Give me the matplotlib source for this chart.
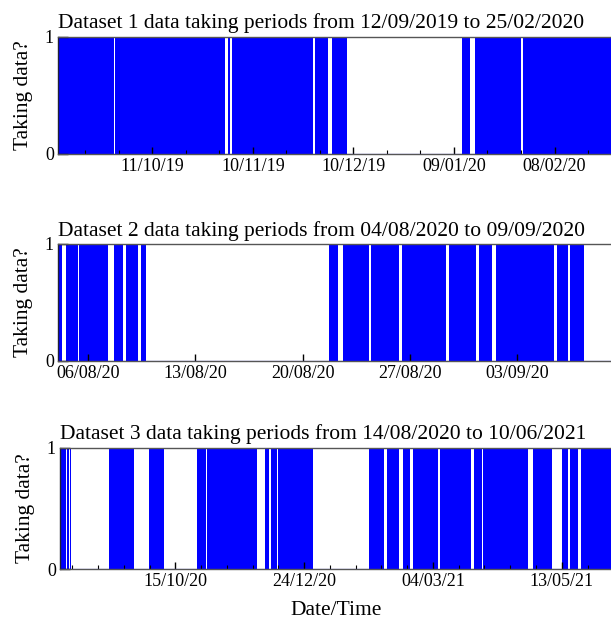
import numpy as np
import matplotlib
matplotlib.use("Agg")
import matplotlib.pyplot as plt
import matplotlib.dates as mdates
from matplotlib.ticker import FixedLocator, MultipleLocator

plt.rcParams['font.family'] = ['Liberation Serif', 'DejaVu Serif']

# ---------------- data (on-periods, days after base date) ----------------
titles = [
    "Dataset 1 data taking periods from 12/09/2019 to 25/02/2020",
    "Dataset 2 data taking periods from 04/08/2020 to 09/09/2020",
    "Dataset 3 data taking periods from 14/08/2020 to 10/06/2021",
]

base1 = "2019-09-12"
on_start1 = [0.86, 1.55, 2.15, 2.75, 5.40, 7.19, 17.9, 44.82, 51.45, 52.8, 66.05,
             77.5, 82.7, 121.5, 125.25, 139.5, 156.4, 161.7]
on_end1 = [1.40, 2.00, 2.60, 5.30, 7.10, 17.5, 44.70, 50.7, 52.05, 65.92, 76.85,
           81.3, 87.0, 123.7, 139.0, 156.28, 161.58, 166.45]

base2 = "2020-08-04"
on_start2 = [0.04, 0.58, 1.42, 3.66, 4.48, 5.47, 17.74, 18.64, 19.30, 20.47,
             22.51, 25.57, 27.48, 28.58, 32.61, 33.45, 36.12]
on_end2 = [0.325, 1.37, 3.31, 4.30, 5.27, 5.80, 18.33, 19.25, 20.34, 22.28,
           25.36, 27.31, 28.33, 32.41, 33.30, 34.37, 36.24]

base3 = "2020-08-14"
on_start3 = [-0.73, 2.93, 4.73, 26.05, 47.76, 73.89, 79.18, 81.4, 93.72, 110.44,
             113.82, 117.55, 167.0, 170.56, 176.98, 185.49, 191.22, 200.46, 205.9,
             213.56, 224.17, 229.3, 232.64, 248.46, 256.56, 272.28, 276.64, 282.64,
             291.86, 296.06]
on_end3 = [2.3, 4.18, 5.44, 39.25, 56.05, 78.8, 81.28, 93.6, 106.18, 112.78,
           117.43, 136.62, 170.46, 175.51, 183.37, 189.75, 200.36, 204.86, 213.46,
           222.7, 228.42, 232.54, 248.36, 253.45, 266.55, 275.55, 281.0, 291.76,
           295.96, 299.85]

major_ticks1 = ["2019-10-11", "2019-11-10", "2019-12-10", "2020-01-09", "2020-02-08"]
major_ticks2 = ["2020-08-06", "2020-08-13", "2020-08-20", "2020-08-27", "2020-09-03"]
major_ticks3 = ["2020-10-15", "2020-12-24", "2021-03-04", "2021-05-13"]
minor_step = [10, None, 14]   # days

ylabel = "Taking data?"
xlabel = "Date/Time"

datasets = [
    (base1, on_start1, on_end1, major_ticks1),
    (base2, on_start2, on_end2, major_ticks2),
    (base3, on_start3, on_end3, major_ticks3),
]

# ---------------- figure ----------------
fig = plt.figure(figsize=(6.11, 6.20), dpi=100)
positions = [
    [58 / 611, 1 - 154 / 620, 555 / 611, 117.3 / 620],
    [58 / 611, 1 - 360.7 / 620, 555 / 611, 116.7 / 620],
    [60 / 611, 1 - 569 / 620, 553 / 611, 121.3 / 620],
]

for i, (base, st, en, majors) in enumerate(datasets):
    ax = fig.add_axes(positions[i])
    b = mdates.datestr2num(base)
    xs, ys = [], []
    for s, e in zip(st, en):
        xs += [b + s, b + e]
        ys += [1, 0]
    xs = np.array(xs)
    ys = np.array(ys)
    ax.fill_between(xs, 0, ys, step='post', color='#0000ff', lw=0, zorder=1)
    ax.axhline(0, color='#0000ff', lw=0.8, zorder=3)
    ax.set_xlim(xs[0], xs[-1])
    ax.set_ylim(0, 1)
    ax.xaxis.set_major_locator(FixedLocator([mdates.datestr2num(t) for t in majors]))
    ax.xaxis.set_major_formatter(mdates.DateFormatter('%d/%m/%y'))
    if minor_step[i]:
        ax.xaxis.set_minor_locator(MultipleLocator(minor_step[i]))
    ax.set_yticks([0, 1])
    ax.set_yticklabels(["0", "1"])
    ax.tick_params(axis='both', which='both', direction='in', top=False, right=False,
                   labelsize=13, pad=3, color='black')
    ax.tick_params(axis='x', which='major', length=5, width=1)
    ax.tick_params(axis='x', which='minor', length=3, width=0.8)
    ax.tick_params(axis='y', which='major', length=7, width=1)
    for name, sp in ax.spines.items():
        sp.set_color('#555555')
        sp.set_linewidth(1.0)
    ax.spines['left'].set_color('#222233')
    ax.set_title(titles[i], loc='left', fontsize=15.5, pad=6)
    ax.set_ylabel(ylabel, fontsize=15.5)
    ax.yaxis.set_label_coords(-0.045, 0.5)
    if i == 2:
        ax.set_xlabel(xlabel, fontsize=15.5, labelpad=8)

fig.savefig("out.png", dpi=100)
